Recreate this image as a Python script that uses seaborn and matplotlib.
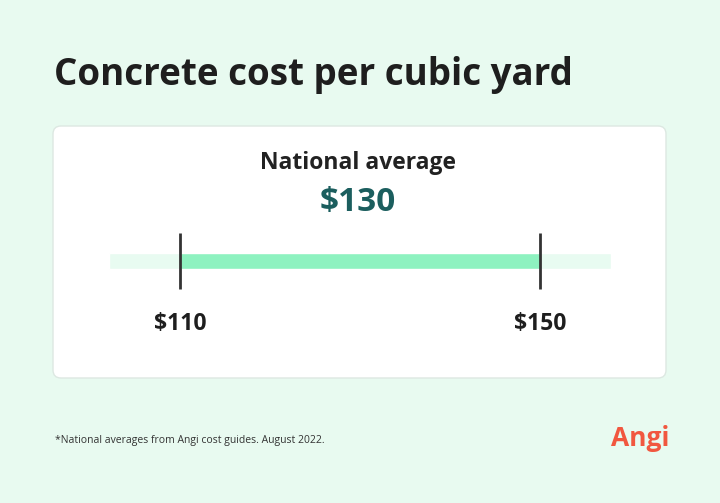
import matplotlib
matplotlib.use("Agg")
import matplotlib.pyplot as plt
import seaborn as sns
from matplotlib.patches import FancyBboxPatch

low, high, avg = 110, 150, 130
labels = ["$110", "$150"]

sns.set_theme(style="white")
plt.rcParams['font.family'] = ['Open Sans', 'DejaVu Sans']
W, H = 720, 503
fig = plt.figure(figsize=(7.2, 5.03), dpi=100)
fig.patch.set_facecolor("#e8faf0")

def fx(x): return x / W
def fy(y): return 1 - y / H

bg = fig.add_axes([0, 0, 1, 1]); bg.set_xlim(0, W); bg.set_ylim(H, 0); bg.axis("off")
bg.add_patch(FancyBboxPatch((53, 126), 613, 252, boxstyle="round,pad=0,rounding_size=8",
                            fc="white", ec="#dde8e2", lw=1))

fig.text(fx(54), fy(75), "Concrete cost per cubic yard", fontsize=26.5, fontweight="bold",
         color="#1e1e1e", va="center", ha="left")
fig.text(fx(358), fy(163), "National average", fontsize=16.5, fontweight="bold",
         color="#222222", ha="center", va="center")
fig.text(fx(358), fy(202), f"${avg}", fontsize=24, fontweight="bold",
         color="#1b5e5e", ha="center", va="center")

ppd = (540 - 180) / (high - low)
x0 = low - (180 - 109) / ppd
x1 = high + (611 - 540) / ppd
ax = fig.add_axes([fx(109), fy(290), fx(611 - 109), (290 - 232) / H])
sns.barplot(x=[high - low], y=[0], orient="h", ax=ax, color="#8ef2c0", width=0)
ax.cla()
ax.barh([29], [x1 - x0], left=x0, height=16, color="#e8fbf1")
ax.barh([29], [high - low], left=low, height=16, color="#8ef2c0")
ax.set_xlim(x0, x1); ax.set_ylim(0, 58); ax.axis("off")
for v in (low, high):
    ax.plot([v, v], [1, 57], color="#333333", lw=2, solid_capstyle="butt")

for v, t in zip((low, high), labels):
    px = 180 + (v - low) * ppd
    fig.text(fx(px), fy(324), t, fontsize=16.5, fontweight="bold", color="#1e1e1e",
             ha="center", va="center")

fig.text(fx(55), fy(441), "*National averages from Angi cost guides. August 2022.",
         fontsize=7.5, color="#333333", va="center")
fig.text(fx(640), fy(439), "Angi", fontsize=19, fontweight="bold", color="#f1573f",
         ha="center", va="center")

fig.savefig("out.png", dpi=100, facecolor=fig.get_facecolor())
